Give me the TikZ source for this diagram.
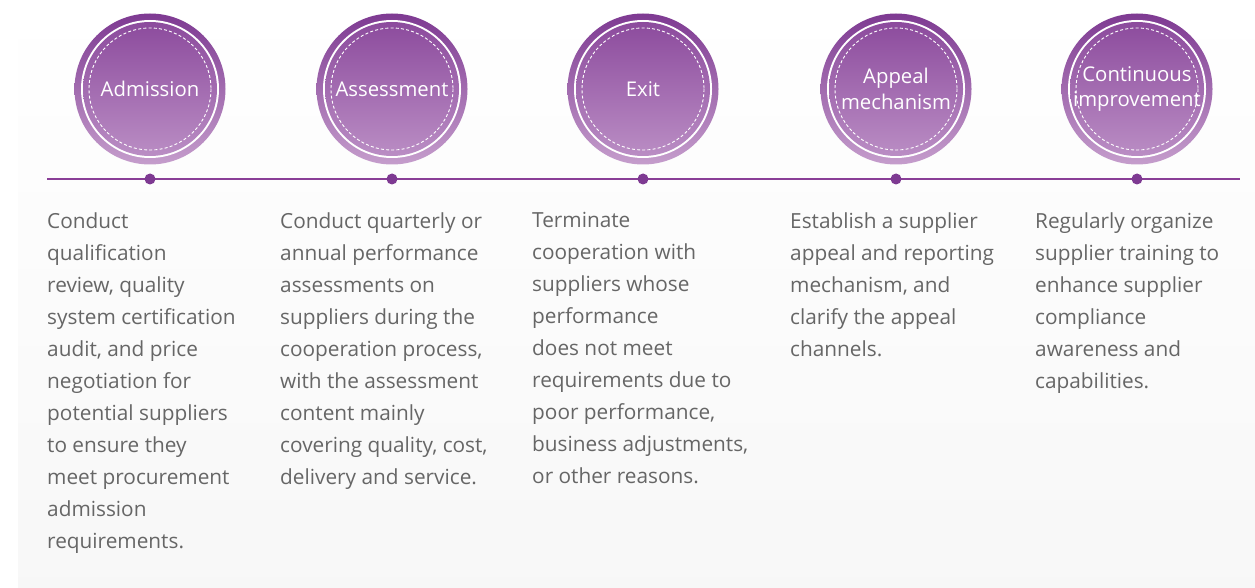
\documentclass[tikz,border=0pt]{standalone}
\usepackage{fontspec}
\setmainfont{Open Sans}
\newfontfamily\stagefont{Open Sans}
\usetikzlibrary{positioning}
\definecolor{plumdark}{HTML}{7E3A92}
\definecolor{plumlight}{HTML}{C59DCC}
\definecolor{pluminner}{HTML}{8C4B9D}
\definecolor{plumfade}{HTML}{BA8DC4}
\definecolor{plumline}{HTML}{8A3E97}
\definecolor{desctext}{HTML}{666666}

\begin{document}
\begin{tikzpicture}[
    x=1pt, y=-1pt,
    stage/.style={circle, minimum size=151pt, inner sep=0pt, top color=plumdark, bottom color=plumlight,
        text=white, align=center, font=\stagefont\fontsize{20.3}{25.5}\selectfont,
        path picture={
            \fill[white] (path picture bounding box.center) circle (69);
            \shade[top color=pluminner, bottom color=plumfade] (path picture bounding box.center) circle (67);
            \draw[white, line width=0.9pt, dash pattern=on 3pt off 2.2pt] (path picture bounding box.center) circle (61);
        }},
    dot/.style={circle, fill=plumdark, inner sep=0pt, minimum size=11pt},
    desc/.style={anchor=north west, inner sep=0pt, align=left, text=desctext,
        font=\fontsize{20.8}{32}\selectfont}
]
    % background panel
    \useasboundingbox (0,0) rectangle (1255,588);
    \shade[top color=white, bottom color=black!3] (18,0) rectangle (1255,588);

    % timeline
    \coordinate (tl-start) at (47,179);
    \coordinate (tl-end) at (1240,179);
    \draw[plumline, line width=1.6pt] (tl-start) -- (tl-end);

    % stages
    \node[stage] (adm) at (150,89) {Admission};
    \node[stage] (ass) at (392,89) {Assessment};
    \node[stage] (ext) at (643,89) {Exit};
    \node[stage] (app) at (896,89) {Appeal\\mechanism};
    \node[stage] (imp) at (1137,89) {Continuous\\improvement};

    \node[dot] (adm-dot) at (150,179) {};
    \node[dot] (ass-dot) at (392,179) {};
    \node[dot] (ext-dot) at (643,179) {};
    \node[dot] (app-dot) at (896,179) {};
    \node[dot] (imp-dot) at (1137,179) {};

    % descriptions
    \node[desc] (adm-txt) at (47,212) {Conduct\\qualification\\review, quality\\system certification\\audit, and price\\negotiation for\\potential suppliers\\to ensure they\\meet procurement\\admission\\requirements.};
    \node[desc] (ass-txt) at (280,212) {Conduct quarterly or\\annual performance\\assessments on\\suppliers during the\\cooperation process,\\with the assessment\\content mainly\\covering quality, cost,\\delivery and service.};
    \node[desc] (ext-txt) at (532,212) {Terminate\\cooperation with\\suppliers whose\\performance\\does not meet\\requirements due to\\poor performance,\\business adjustments,\\or other reasons.};
    \node[desc] (app-txt) at (790,212) {Establish a supplier\\appeal and reporting\\mechanism, and\\clarify the appeal\\channels.};
    \node[desc] (imp-txt) at (1035,212) {Regularly organize\\supplier training to\\enhance supplier\\compliance\\awareness and\\capabilities.};
\end{tikzpicture}
\end{document}
